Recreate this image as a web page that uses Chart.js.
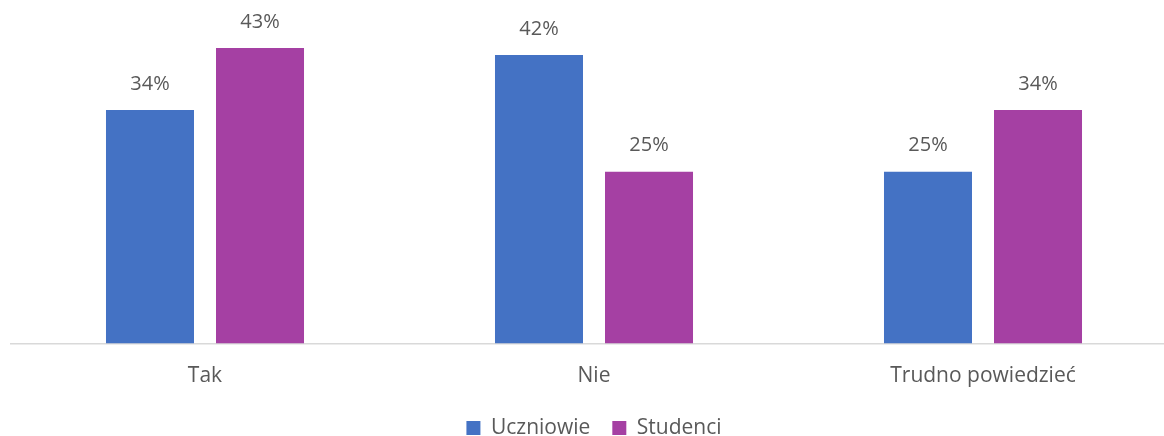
<!DOCTYPE html>
<html lang="pl">
<head>
<meta charset="utf-8">
<title>Uczniowie i studenci</title>
<script src="https://cdn.jsdelivr.net/npm/chart.js@4/dist/chart.umd.min.js"></script>
<style>
  html, body { margin: 0; padding: 0; overflow: hidden; background: #ffffff; }
  #wrap { width: 1196px; height: 436px; }
</style>
</head>
<body>
<div id="wrap"><canvas id="c" width="1196" height="436"></canvas></div>
<script>
const categories = ['Tak', 'Nie', 'Trudno powiedzieć'];
const uczniowie = [34, 42, 25];
const studenci = [43, 25, 34];
const seriesNames = ['Uczniowie', 'Studenci'];

const FONT = '"Open Sans", "Noto Sans", sans-serif';
const TEXT = '#595959';

// Percentage labels above each bar
const valueLabels = {
  id: 'valueLabels',
  afterDatasetsDraw(chart) {
    const ctx = chart.ctx;
    ctx.save();
    ctx.font = '20px ' + FONT;
    ctx.fillStyle = TEXT;
    ctx.textAlign = 'center';
    ctx.textBaseline = 'middle';
    chart.data.datasets.forEach((ds, i) => {
      chart.getDatasetMeta(i).data.forEach((bar, j) => {
        ctx.fillText(ds.data[j] + '%', bar.x, bar.y - 26);
      });
    });
    ctx.restore();
  }
};

new Chart(document.getElementById('c'), {
  type: 'bar',
  data: {
    labels: categories,
    datasets: [
      { label: seriesNames[0], data: uczniowie, backgroundColor: '#4472C4' },
      { label: seriesNames[1], data: studenci, backgroundColor: '#A540A3' }
    ]
  },
  options: {
    responsive: false,
    animation: false,
    layout: { padding: { left: 10.5, right: 18.5, top: 0, bottom: -12.5 } },
    datasets: { bar: { barPercentage: 0.8, categoryPercentage: 0.5656 } },
    scales: {
      x: {
        grid: { display: false, drawTicks: false },
        border: { display: true, color: '#d9d9d9', width: 1.5 },
        ticks: { color: TEXT, font: { family: FONT, size: 21 }, padding: 20 },
        afterFit(scale) { scale.height = 52; }
      },
      y: { display: false, min: 0, max: 50 }
    },
    plugins: {
      legend: {
        position: 'bottom',
        labels: {
          color: TEXT,
          font: { family: FONT, size: 21 },
          boxWidth: 14, boxHeight: 14,
          padding: 22
        }
      },
      tooltip: { enabled: false }
    }
  },
  plugins: [valueLabels]
});
</script>
</body>
</html>
